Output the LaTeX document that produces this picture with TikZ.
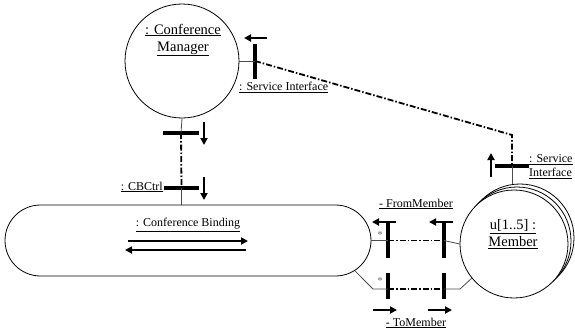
\documentclass[tikz,border=0pt]{standalone}
\usepackage{fontspec}
\setmainfont{Liberation Serif}
\usetikzlibrary{arrows.meta,shapes.misc,calc}

\tikzset{
  part/.style={circle, draw=black, line width=0.8pt, fill=white, inner sep=0pt},
  bigname/.style={font=\fontsize{14.5}{17}\selectfont, inner sep=0pt, align=center},
  lbl/.style={font=\fontsize{12}{14}\selectfont, inner sep=0pt},
  vbar/.style={fill=black, inner sep=0pt, minimum width=3.8pt},
  hbar/.style={fill=black, inner sep=0pt, minimum height=3.8pt},
  stub/.style={draw=black!70, line width=0.8pt},
  wire/.style={line width=1.8pt, dash pattern=on 6pt off 2pt on 1.5pt off 2pt},
  flow/.style={line width=1.8pt, -{Triangle[length=7pt,width=7pt]}},
  mult/.style={font=\fontsize{11}{12}\selectfont, text=black!55, inner sep=0pt}
}

\begin{document}
\begin{tikzpicture}[x=1pt,y=-1pt]
\useasboundingbox (0,0) rectangle (575,333);

% Conference manager part
\node[part, minimum size=114pt] (mgr) at (182,61) {};
\node[bigname] (mgrname) at (183,40) {\underline{: Conference}\\\underline{Manager}};

% Members: stacked multi-instance part
\node[part, minimum size=108pt] (mem3) at (520,238) {};
\node[part, minimum size=108pt] (mem2) at (517,241) {};
\node[part, minimum size=108pt] (mem) at (514,244) {};
\node[bigname] (memname) at (513,234) {\underline{u[1..5] :}\\\underline{Member}};

% Conference binding
\node[rounded rectangle, draw=black, line width=0.8pt, minimum width=366pt,
      minimum height=71pt, inner sep=0pt] (cb) at (188,240.5) {};
\node[lbl] (cbname) at (188,225) {\underline{: Conference Binding}};
\coordinate (cbr1) at (128,241);
\coordinate (cbr2) at (248,241);
\coordinate (cbl1) at (246,250);
\coordinate (cbl2) at (125,250);
\draw[flow] (cbr1) -- (cbr2);
\draw[flow] (cbl1) -- (cbl2);
% point on the lower right rounded end
\coordinate (cbout) at ($(cb.east)+(-35.5,0)+(58:35.5)$);

% Service interface of the manager
\node[vbar, minimum height=35pt] (mport) at (255,61) {};
\draw[stub] (mgr.east) -- (mport.center);
\node[lbl, anchor=west] (mportname) at (239,87) {\underline{: Service Interface}};
\coordinate (ma1) at (267,38);
\coordinate (ma2) at (244,38);
\draw[flow] (ma1) -- (ma2);

% Service interface of the members
\node[hbar, minimum width=34pt] (uport) at (512,166) {};
\draw[stub] (uport.center) -- (mem3.north -| uport.center);
\node[lbl, anchor=west, align=left] (uportname) at (529,167)
  {\underline{: Service}\\\underline{Interface}};
\coordinate (ua1) at (491,177);
\coordinate (ua2) at (491,153);
\draw[flow] (ua1) -- (ua2);

% Service connection
\coordinate (bend) at (512,135);
\draw[wire] (mport.center) -- (bend) -- (uport.center);

% CBCtrl connection between manager and binding
\node[hbar, minimum width=36pt] (cport1) at (181,133) {};
\node[hbar, minimum width=35pt] (cport2) at (181.5,188) {};
\draw[stub] (mgr.south) -- (cport1.center);
\draw[stub] (cport2.center) -- (cb.north -| cport2.center);
\draw[wire] (cport1.center) -- (cport2.center);
\node[lbl, anchor=east] (cctrlname) at (163,187) {\underline{: CBCtrl}};
\coordinate (ca1) at (204,122);
\coordinate (ca2) at (204,145);
\coordinate (ca3) at (204,177);
\coordinate (ca4) at (204,200);
\draw[flow] (ca1) -- (ca2);
\draw[flow] (ca3) -- (ca4);

% FromMember connection
\node[vbar, minimum height=35pt] (fb) at (388,240.5) {};
\node[vbar, minimum height=35pt] (fm) at (444,240.5) {};
\draw[stub] (cb.east) -- (fb.center |- cb.east);
\draw[wire] (fb.center |- cb.east) -- (fm.center |- cb.east);
\draw[stub] (fm.center |- cb.east) -- (mem.west);
\node[lbl] (fromname) at (416,204) {\underline{- FromMember}};
\node[mult] (fstar) at (380,235) {*};
\coordinate (fa1) at (396,222);
\coordinate (fa2) at (372,222);
\coordinate (fa3) at (453,222);
\coordinate (fa4) at (429,222);
\draw[flow] (fa1) -- (fa2);
\draw[flow] (fa3) -- (fa4);

% ToMember connection
\node[vbar, minimum height=26pt] (tb) at (388,285.5) {};
\node[vbar, minimum height=26pt] (tm) at (444,285.5) {};
\coordinate (tk1) at (373,289);
\coordinate (tk2) at (460,289);
\draw[stub] (cbout) -- (tk1) -- (tb.center |- tk1);
\draw[wire] (tb.center |- tk1) -- (tm.center |- tk1);
\draw[stub] (tm.center |- tk1) -- (tk2) -- (mem.219);
\node[lbl] (toname) at (416,323) {\underline{- ToMember}};
\node[mult] (tstar) at (380,281) {*};
\coordinate (ta1) at (373,310);
\coordinate (ta2) at (397,310);
\coordinate (ta3) at (428,310);
\coordinate (ta4) at (452,310);
\draw[flow] (ta1) -- (ta2);
\draw[flow] (ta3) -- (ta4);
\end{tikzpicture}
\end{document}
